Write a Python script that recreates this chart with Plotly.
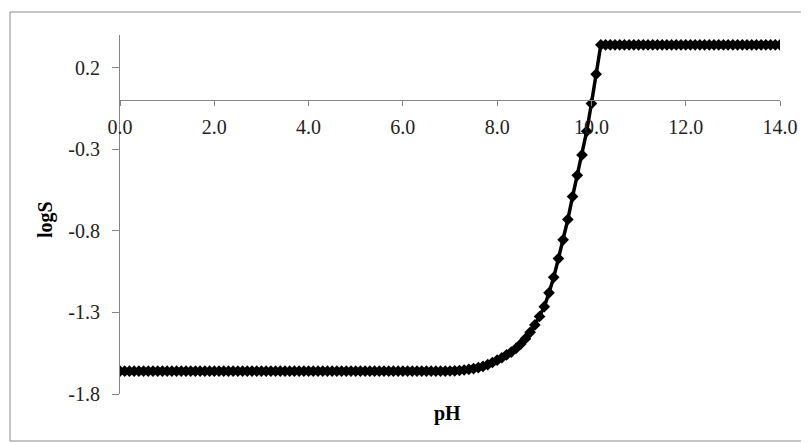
import plotly.graph_objects as go

# ---- data ----
pH = [
    0.0, 0.1, 0.2, 0.3, 0.4, 0.5, 0.6, 0.7, 0.8, 0.9,
    1.0, 1.1, 1.2, 1.3, 1.4, 1.5, 1.6, 1.7, 1.8, 1.9,
    2.0, 2.1, 2.2, 2.3, 2.4, 2.5, 2.6, 2.7, 2.8, 2.9,
    3.0, 3.1, 3.2, 3.3, 3.4, 3.5, 3.6, 3.7, 3.8, 3.9,
    4.0, 4.1, 4.2, 4.3, 4.4, 4.5, 4.6, 4.7, 4.8, 4.9,
    5.0, 5.1, 5.2, 5.3, 5.4, 5.5, 5.6, 5.7, 5.8, 5.9,
    6.0, 6.1, 6.2, 6.3, 6.4, 6.5, 6.6, 6.7, 6.8, 6.9,
    7.0, 7.1, 7.2, 7.3, 7.4, 7.5, 7.6, 7.7, 7.8, 7.9,
    8.0, 8.1, 8.2, 8.3, 8.4, 8.5, 8.6, 8.7, 8.8, 8.9,
    9.0, 9.1, 9.2, 9.3, 9.4, 9.5, 9.6, 9.7, 9.8, 9.9,
    10.0, 10.1, 10.2, 10.3, 10.4, 10.5, 10.6, 10.7, 10.8, 10.9,
    11.0, 11.1, 11.2, 11.3, 11.4, 11.5, 11.6, 11.7, 11.8, 11.9,
    12.0, 12.1, 12.2, 12.3, 12.4, 12.5, 12.6, 12.7, 12.8, 12.9,
    13.0, 13.1, 13.2, 13.3, 13.4, 13.5, 13.6, 13.7, 13.8, 13.9,
    14.0,
]

logS = [
    -1.66, -1.66, -1.66, -1.66, -1.66, -1.66, -1.66, -1.66, -1.66, -1.66,
    -1.66, -1.66, -1.66, -1.66, -1.66, -1.66, -1.66, -1.66, -1.66, -1.66,
    -1.66, -1.66, -1.66, -1.66, -1.66, -1.66, -1.66, -1.66, -1.66, -1.66,
    -1.66, -1.66, -1.66, -1.66, -1.66, -1.66, -1.66, -1.66, -1.66, -1.66,
    -1.66, -1.66, -1.66, -1.66, -1.66, -1.66, -1.66, -1.66, -1.66, -1.66,
    -1.66, -1.66, -1.66, -1.66, -1.66, -1.66, -1.66, -1.66, -1.66, -1.66,
    -1.66, -1.66, -1.66, -1.66, -1.66, -1.66, -1.66, -1.66, -1.66, -1.66,
    -1.659, -1.658, -1.656, -1.653, -1.649, -1.644, -1.638, -1.631, -1.620, -1.607,
    -1.593, -1.578, -1.560, -1.543, -1.521, -1.494, -1.461, -1.422, -1.377, -1.325,
    -1.265, -1.180, -1.085, -0.970, -0.855, -0.730, -0.590, -0.460, -0.335, -0.190,
    -0.020, 0.160, 0.340, 0.340, 0.340, 0.340, 0.340, 0.340, 0.340, 0.340,
    0.340, 0.340, 0.340, 0.340, 0.340, 0.340, 0.340, 0.340, 0.340, 0.340,
    0.340, 0.340, 0.340, 0.340, 0.340, 0.340, 0.340, 0.340, 0.340, 0.340,
    0.340, 0.340, 0.340, 0.340, 0.340, 0.340, 0.340, 0.340, 0.340, 0.340,
    0.340,
]

x_ticks = [0, 2, 4, 6, 8, 10, 12, 14]
x_ticklabels = ["0.0", "2.0", "4.0", "6.0", "8.0", "10.0", "12.0", "14.0"]
y_ticks = [-1.8, -1.3, -0.8, -0.3, 0.2]
y_ticklabels = ["-1.8", "-1.3", "-0.8", "-0.3", "0.2"]
x_title = "pH"
y_title = "logS"

# ---- layout ----
# The page body has an 8px margin, so the figure is drawn 8px smaller and
# every reference pixel position is shifted by OFF.
OFF = 8
W, H = 809 - OFF, 443 - OFF
L, R, T, B = 120 - OFF, 29, 35 - OFF, 49
X_RANGE = [0, 14]
Y_RANGE = [-1.8, 0.4]
FONT = "Liberation Serif, Times New Roman, serif"
AXIS_COLOR = "#868686"

pw = W - L - R
ph = H - T - B


def px_to_paper_x(px):
    return (px - OFF - L) / pw


def px_to_paper_y(py):
    return (H - B - (py - OFF)) / ph


fig = go.Figure()
fig.add_trace(go.Scatter(
    x=pH, y=logS, mode="lines+markers",
    line=dict(color="black", width=3.5),
    marker=dict(symbol="diamond", size=9, color="black"),
    showlegend=False,
))

x_axis_pos = (0 - Y_RANGE[0]) / (Y_RANGE[1] - Y_RANGE[0])

fig.update_layout(
    width=W, height=H,
    margin=dict(l=L, r=R, t=T, b=B),
    paper_bgcolor="white", plot_bgcolor="white",
    font=dict(family=FONT, size=20, color="black"),
    xaxis=dict(
        range=X_RANGE, tickmode="array", tickvals=x_ticks, ticktext=x_ticklabels,
        showgrid=False, zeroline=False,
        showline=True, linecolor=AXIS_COLOR, linewidth=1,
        ticks="outside", ticklen=5, tickcolor=AXIS_COLOR,
        anchor="free", position=x_axis_pos,
        ticklabelstandoff=4,
        tickfont=dict(family=FONT, size=20, color="#222"),
    ),
    yaxis=dict(
        range=Y_RANGE, tickmode="array", tickvals=y_ticks, ticktext=y_ticklabels,
        showgrid=False, zeroline=False,
        showline=True, linecolor=AXIS_COLOR, linewidth=1,
        ticks="outside", ticklen=7, tickcolor=AXIS_COLOR,
        ticklabelstandoff=8,
        tickfont=dict(family=FONT, size=20, color="#222"),
    ),
    shapes=[dict(
        type="rect", xref="paper", yref="paper",
        x0=px_to_paper_x(10), x1=px_to_paper_x(804),
        y0=px_to_paper_y(441), y1=px_to_paper_y(12),
        line=dict(color="#8c8c8c", width=1), fillcolor="rgba(0,0,0,0)",
        layer="below",
    )],
    annotations=[
        dict(text="<b>" + x_title + "</b>", xref="paper", yref="paper",
             x=px_to_paper_x(447), y=px_to_paper_y(413),
             showarrow=False, font=dict(family=FONT, size=20, color="black"),
             xanchor="center", yanchor="middle"),
        dict(text="<b>" + y_title + "</b>", xref="paper", yref="paper",
             x=px_to_paper_x(45), y=px_to_paper_y(220), textangle=-90,
             showarrow=False, font=dict(family=FONT, size=20, color="black"),
             xanchor="center", yanchor="middle"),
    ],
)

fig.write_html("out.html")
